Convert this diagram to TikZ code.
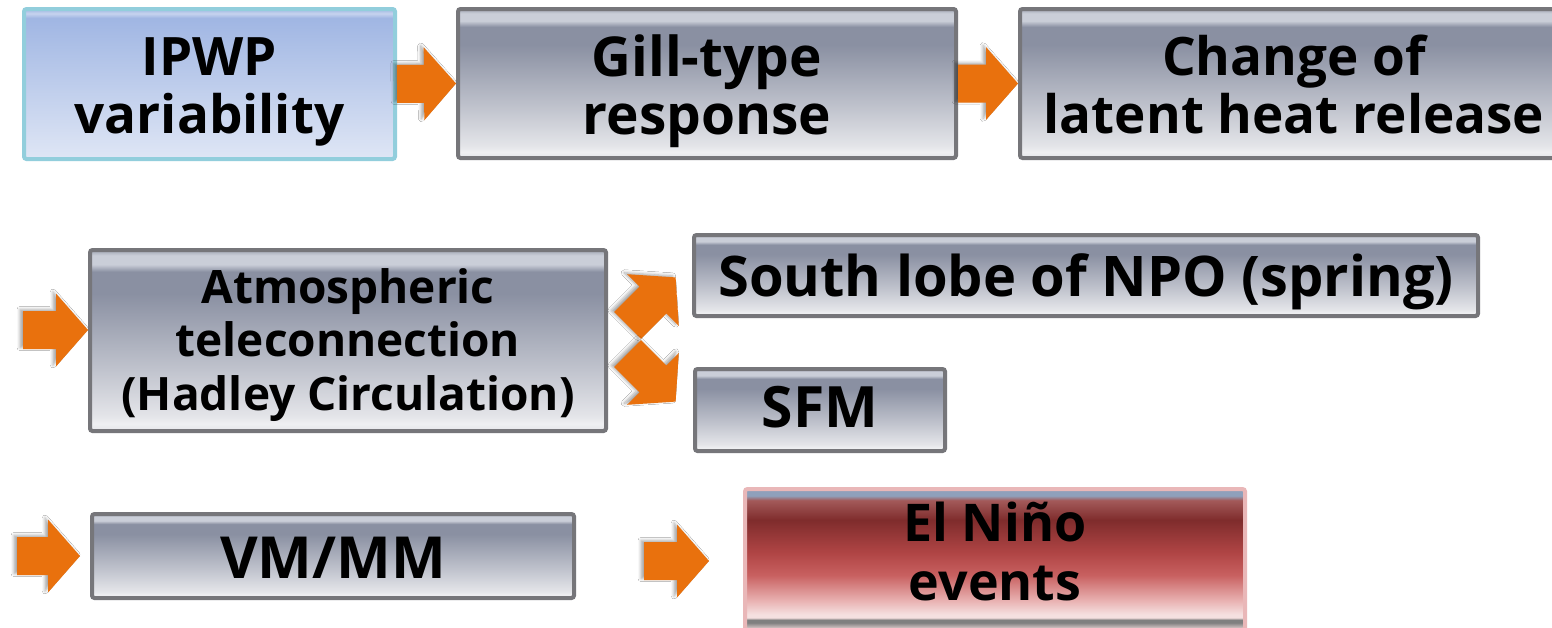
\documentclass[tikz,border=0pt]{standalone}
\usepackage{fontspec}
\setmainfont{Open Sans}
\usetikzlibrary{calc,shadows.blur}

\definecolor{arroworange}{RGB}{233,113,13}
\definecolor{boxedge}{RGB}{118,118,122}
\definecolor{blueedge}{RGB}{146,206,220}
\definecolor{pinkedge}{RGB}{233,183,184}

% glass-like gray fill
\definecolor{gb0}{RGB}{228,229,233}
\definecolor{gb1}{RGB}{192,195,205}
\definecolor{gb2}{RGB}{138,144,162}
\definecolor{gb3}{RGB}{202,206,216}
\definecolor{gb4}{RGB}{160,165,178}
\pgfdeclareverticalshading{glassgray}{100bp}{%
  color(0bp)=(gb0); color(25bp)=(gb0); color(27bp)=(gb0!60!white);
  color(29bp)=(gb0); color(42bp)=(gb1); color(63bp)=(gb2); color(69bp)=(gb2);
  color(71bp)=(gb3); color(73.5bp)=(gb3); color(75bp)=(gb4); color(100bp)=(gb4)}

% pale blue fill
\definecolor{bl0}{RGB}{223,230,245}
\definecolor{bl1}{RGB}{160,182,227}
\pgfdeclareverticalshading{glassblue}{100bp}{%
  color(0bp)=(bl0); color(25bp)=(bl0); color(72bp)=(bl1); color(73.5bp)=(bl1!60!white);
  color(75bp)=(bl1); color(100bp)=(bl1)}

% red fill
\definecolor{rd0}{RGB}{245,224,224}
\definecolor{rd1}{RGB}{232,176,176}
\definecolor{rd2}{RGB}{200,96,96}
\definecolor{rd3}{RGB}{176,69,69}
\definecolor{rd4}{RGB}{127,44,44}
\definecolor{rd5}{RGB}{163,90,90}
\definecolor{rdline}{RGB}{143,160,187}
\pgfdeclareverticalshading{glassred}{100bp}{%
  color(0bp)=(rd0); color(25bp)=(rd0); color(27.6bp)=(gray); color(28.6bp)=(gray);
  color(29.4bp)=(rd0); color(30.5bp)=(rd0); color(35.6bp)=(rd1); color(44.5bp)=(rd2);
  color(52.3bp)=(rd3); color(64bp)=(rd4); color(71bp)=(rd5); color(72.6bp)=(rdline);
  color(75bp)=(rdline); color(100bp)=(rdline)}

% invisible struts that fix the height of a first line / depth of a last line
\newcommand\hstrut[1]{\rule{0pt}{#1pt}}
\newcommand\dstrut[1]{\rule[-#1pt]{0pt}{0pt}}
\newcommand\fs[2]{\bfseries\fontsize{#1}{#2}\selectfont}

\tikzset{
  box/.style={draw=boxedge, line width=4pt, rounded corners=2.5pt, shading=glassgray,
    align=center, inner sep=0pt, text=black, font=\fs{53}{58}},
  bluebox/.style={box, draw=blueedge, shading=glassblue},
  redbox/.style={box, draw=pinkedge, shading=glassred},
  arrowfill/.style={fill=arroworange,
    blur shadow={shadow xshift=-3pt, shadow yshift=1.5pt, shadow blur radius=3pt, shadow opacity=35}},
}

% block arrow from #1 to the tip #2
\newcommand\blockarrow[2]{%
  \coordinate (ba-s) at (#1);
  \coordinate (ba-t) at (#2);
  \coordinate (ba-h) at ($(ba-t)!32pt!(ba-s)$);
  \fill[arrowfill] ($(ba-s)!19pt!90:(ba-t)$) -- ($(ba-h)!19pt!-90:(ba-s)$)
    -- ($(ba-h)!36.5pt!-90:(ba-s)$) -- (ba-t) -- ($(ba-h)!36.5pt!90:(ba-s)$)
    -- ($(ba-h)!19pt!90:(ba-s)$) -- ($(ba-s)!19pt!-90:(ba-t)$) -- cycle;
}

\begin{document}
\begin{tikzpicture}[x=1pt, y=-1pt]
\useasboundingbox (0,0) rectangle (1552,627);
\clip (0,0) rectangle (1552,627);
\fill[white] (0,0) rectangle (1552,627);

% top row
\node[bluebox, minimum width=371pt, minimum height=150pt] (ipwp) at (209.5,84)
  {\hstrut{54}IPWP\\variability\dstrut{14}};
\node[box, minimum width=498pt, minimum height=149pt, font=\fs{55}{58}] (gill) at (707,83.5)
  {\hstrut{57}Gill-type\\response\dstrut{14}};
\node[box, minimum width=548pt, minimum height=149pt] (change) at (1294,83.5)
  {\hstrut{55}Change of\\latent heat release\dstrut{14}};

% middle row
\node[box, minimum width=516pt, minimum height=181pt, font=\fs{46}{53.5}] (atm) at (348,340.5)
  {\hstrut{44}Atmospheric\\teleconnection\\(Hadley Circulation)\dstrut{12}};
\node[box, minimum width=784pt, minimum height=81pt, font=\fs{56}{60}] (south) at (1086,275.5)
  {\hstrut{55}South lobe of NPO (spring)\dstrut{14}};
\node[box, minimum width=250pt, minimum height=82pt, font=\fs{57}{60}] (sfm) at (820,410)
  {\hstrut{41}SFM\dstrut{7}};

% bottom row
\node[box, minimum width=482pt, minimum height=84pt, font=\fs{58}{60}] (vm) at (333,556)
  {\hstrut{50}VM/MM\dstrut{6}};
\node[redbox, minimum width=500pt, minimum height=141pt, font=\fs{52}{59}] (nino) at (995,559.5)
  {\hstrut{42}El Niño\\events\dstrut{20}};

% arrow end points
\coordinate (atm-in) at (23,330);
\coordinate (vm-in) at (17,556);
\coordinate (vm-tip) at ($(vm.west)+(-10,0)$);
\coordinate (nino-in) at (644,561);
\coordinate (nino-tip) at (709,561);
\coordinate (up-base) at (627.5,325.5);
\coordinate (up-tip) at (675.6,277.4);
\coordinate (dn-base) at (627.5,353.5);
\coordinate (dn-tip) at (675.6,401.6);

% arrows
\blockarrow{ipwp.east}{gill.west}
\blockarrow{gill.east}{change.west}
\blockarrow{atm-in}{atm.west |- atm-in}
\blockarrow{up-base}{up-tip}
\blockarrow{dn-base}{dn-tip}
\blockarrow{vm-in}{vm-tip}
\blockarrow{nino-in}{nino-tip}
\end{tikzpicture}
\end{document}
